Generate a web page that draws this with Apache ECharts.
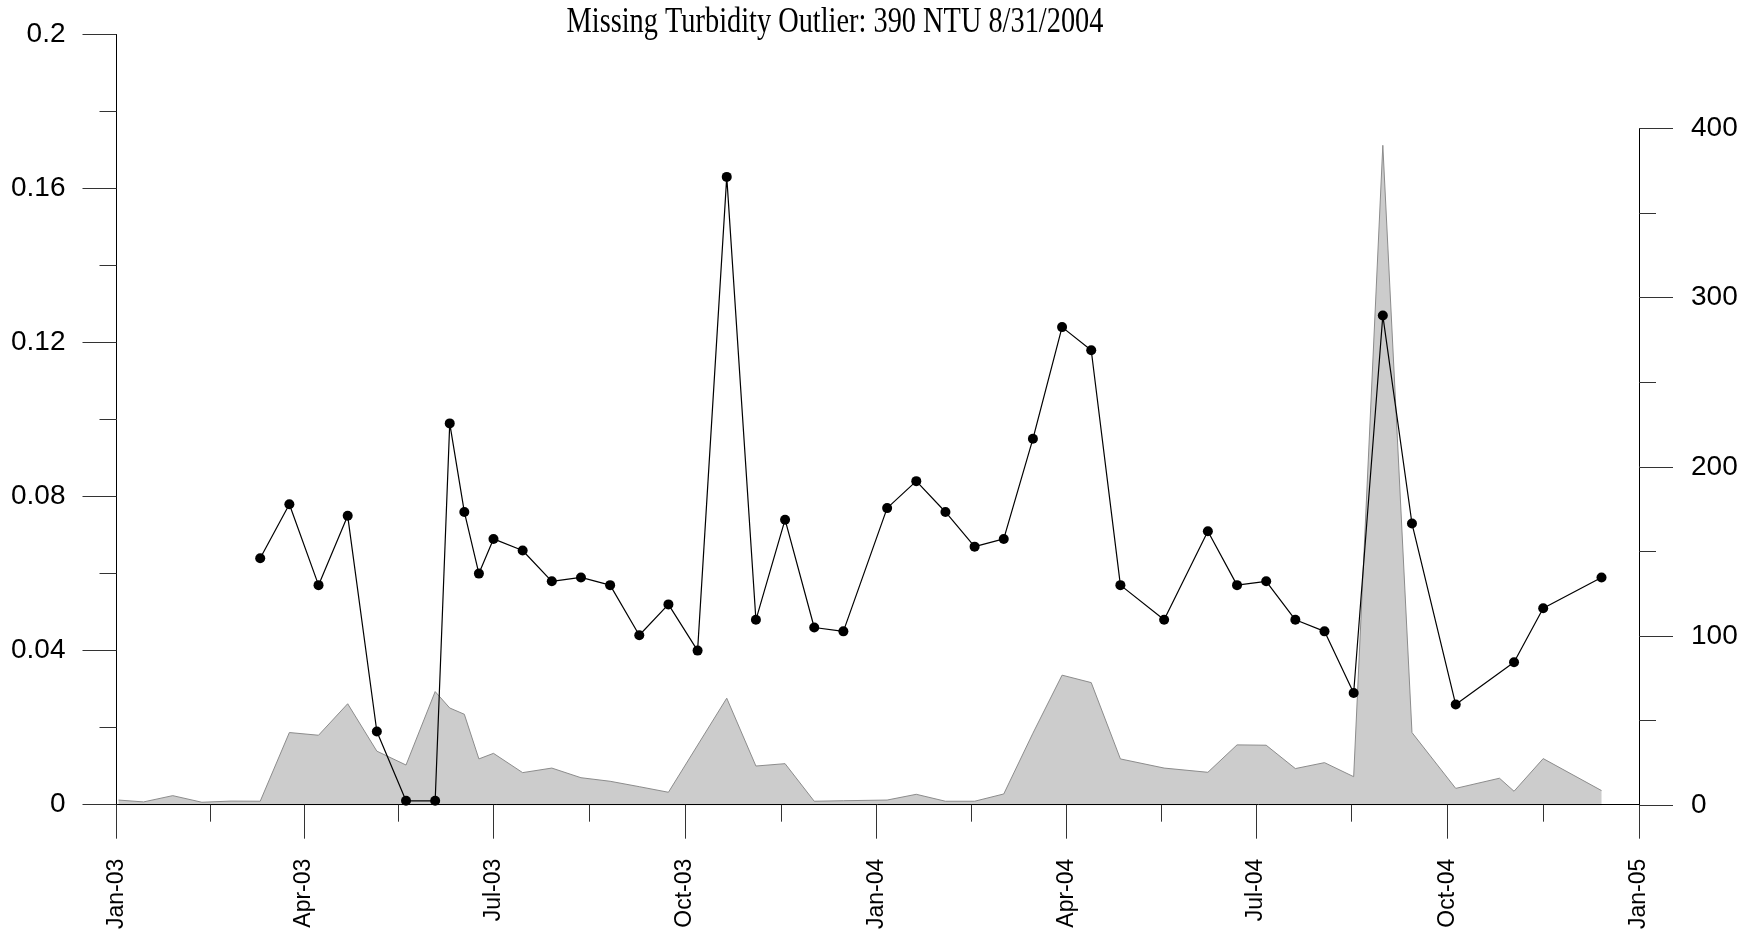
<!DOCTYPE html>
<html>
<head>
<meta charset="utf-8">
<title>Missing Turbidity Outlier</title>
<script src="https://cdn.jsdelivr.net/npm/echarts@6/dist/echarts.min.js"></script>
<style>
  html, body { margin: 0; padding: 0; background: #fff; }
  #chart { width: 1758px; height: 932px; }
</style>
</head>
<body>
<div id="chart"></div>
<script>
// Chart title
const TITLE = 'Missing Turbidity Outlier: 390 NTU 8/31/2004';

// Concentration samples (left axis, dots joined by a line)
const lineDates = [
  '2003-03-11', '2003-03-25', '2003-04-08', '2003-04-22', '2003-05-06', '2003-05-20',
  '2003-06-03', '2003-06-10', '2003-06-17', '2003-06-24', '2003-07-01', '2003-07-15',
  '2003-07-29', '2003-08-12', '2003-08-26', '2003-09-09', '2003-09-23', '2003-10-07',
  '2003-10-21', '2003-11-04', '2003-11-18', '2003-12-02', '2003-12-16', '2004-01-06',
  '2004-01-20', '2004-02-03', '2004-02-17', '2004-03-02', '2004-03-16', '2004-03-30',
  '2004-04-13', '2004-04-27', '2004-05-18', '2004-06-08', '2004-06-22', '2004-07-06',
  '2004-07-20', '2004-08-03', '2004-08-17', '2004-08-31', '2004-09-14', '2004-10-05',
  '2004-11-02', '2004-11-16', '2004-12-14'
];
const lineValues = [
  0.064, 0.078, 0.057, 0.075, 0.019, 0.001,
  0.001, 0.099, 0.076, 0.060, 0.069, 0.066,
  0.058, 0.059, 0.057, 0.044, 0.052, 0.040,
  0.163, 0.048, 0.074, 0.046, 0.045, 0.077,
  0.084, 0.076, 0.067, 0.069, 0.095, 0.124,
  0.118, 0.057, 0.048, 0.071, 0.057, 0.058,
  0.048, 0.045, 0.029, 0.127, 0.073, 0.026,
  0.037, 0.051, 0.059
];

// Turbidity samples in NTU (right axis, grey area)
const areaDates = [
  '2003-01-02', '2003-01-14', '2003-01-28', '2003-02-11', '2003-02-25', '2003-03-11',
  '2003-03-25', '2003-04-08', '2003-04-22', '2003-05-06', '2003-05-20', '2003-06-03',
  '2003-06-10', '2003-06-17', '2003-06-24', '2003-07-01', '2003-07-15', '2003-07-29',
  '2003-08-12', '2003-08-26', '2003-09-09', '2003-09-23', '2003-10-21', '2003-11-04',
  '2003-11-18', '2003-12-02', '2003-12-16', '2004-01-06', '2004-01-20', '2004-02-03',
  '2004-02-17', '2004-03-02', '2004-03-16', '2004-03-30', '2004-04-13', '2004-04-27',
  '2004-05-18', '2004-06-08', '2004-06-22', '2004-07-06', '2004-07-20', '2004-08-03',
  '2004-08-17', '2004-08-31', '2004-09-14', '2004-10-05', '2004-10-26', '2004-11-02',
  '2004-11-16', '2004-12-14'
];
const areaValues = [
  3.1, 2.0, 5.7, 1.8, 2.5, 2.4,
  43, 41.4, 60, 32, 23.8, 67.2,
  57.5, 53.8, 27.4, 30.7, 19.3, 22,
  16.3, 14.2, 11, 7.7, 63.3, 23.2,
  24.6, 2.4, 2.7, 3.1, 6.5, 2.4,
  2.4, 6.7, 42.6, 76.9, 72.5, 27.4,
  22, 19.5, 35.7, 35.5, 21.7, 25.2,
  16.9, 390, 43, 10, 16, 8.3,
  27.6, 8.7
];

// Quarter starts carry the labelled ticks on the date axis
const quarterTicks = [
  '2003-01-01', '2003-04-01', '2003-07-01', '2003-10-01',
  '2004-01-01', '2004-04-01', '2004-07-01', '2004-10-01', '2005-01-01'
];
const MONTHS = ['Jan', 'Feb', 'Mar', 'Apr', 'May', 'Jun', 'Jul', 'Aug', 'Sep', 'Oct', 'Nov', 'Dec'];

const toMs = s => { const p = s.split('-').map(Number); return Date.UTC(p[0], p[1] - 1, p[2]); };
const quarterMs = quarterTicks.map(toMs);
const midQuarterMs = quarterMs.slice(0, -1).map((t, i) => (t + quarterMs[i + 1]) / 2);
const xMin = quarterMs[0];
const xMax = quarterMs[quarterMs.length - 1];

const lineData = lineDates.map((d, i) => [toMs(d), lineValues[i]]);
const areaData = areaDates.map((d, i) => [toMs(d), areaValues[i]]);

const fmtQuarter = v => {
  const d = new Date(v);
  return MONTHS[d.getUTCMonth()] + '-' + String(d.getUTCFullYear() % 100).padStart(2, '0');
};

const SANS = '"Liberation Sans", Arial, sans-serif';
const TICK = '#333';

const chart = echarts.init(document.getElementById('chart'), null, { renderer: 'canvas' });

chart.setOption({
  backgroundColor: '#fff',
  animation: false,
  graphic: [{
    type: 'text',
    x: 835,
    y: 23,
    scaleX: 0.81,
    style: {
      text: TITLE,
      font: '35px "Liberation Serif", "Times New Roman", serif',
      fill: '#000',
      textAlign: 'center',
      textVerticalAlign: 'middle'
    }
  }],
  grid: [
    { left: 116.5, right: 119, top: 34.4, bottom: 126.7 },
    { left: 116.5, right: 119, top: 128.4, bottom: 126.7 }
  ],
  xAxis: [
    {
      type: 'value', gridIndex: 0, min: xMin, max: xMax, z: 10,
      axisLine: { show: true, onZero: false, lineStyle: { color: '#000', width: 1 } },
      axisTick: { show: true, customValues: quarterMs, length: 34, lineStyle: { color: TICK } },
      axisLabel: {
        customValues: quarterMs, rotate: 90, margin: 54,
        formatter: fmtQuarter, fontFamily: SANS, fontSize: 23, color: '#000'
      },
      splitLine: { show: false }
    },
    {
      type: 'value', gridIndex: 0, min: xMin, max: xMax, position: 'bottom', z: 10,
      axisLine: { show: false },
      axisTick: { show: true, customValues: midQuarterMs, length: 17, lineStyle: { color: TICK } },
      axisLabel: { show: false },
      splitLine: { show: false }
    },
    {
      type: 'value', gridIndex: 1, min: xMin, max: xMax, show: false
    }
  ],
  yAxis: [
    {
      type: 'value', gridIndex: 0, position: 'left', min: 0, max: 0.2, interval: 0.04, z: 10,
      axisLine: { show: true, lineStyle: { color: '#000', width: 1 } },
      axisTick: { show: true, length: 34, lineStyle: { color: TICK } },
      minorTick: { show: true, splitNumber: 2, length: 17, lineStyle: { color: TICK } },
      axisLabel: { margin: 51, fontFamily: SANS, fontSize: 28, color: '#000' },
      splitLine: { show: false },
      minorSplitLine: { show: false }
    },
    {
      type: 'value', gridIndex: 1, position: 'right', min: 0, max: 400, interval: 100, z: 10,
      axisLine: { show: true, lineStyle: { color: '#000', width: 1 } },
      axisTick: { show: true, length: 34, lineStyle: { color: TICK } },
      minorTick: { show: true, splitNumber: 2, length: 17, lineStyle: { color: TICK } },
      axisLabel: { margin: 52, fontFamily: SANS, fontSize: 28, color: '#000' },
      splitLine: { show: false },
      minorSplitLine: { show: false }
    }
  ],
  series: [
    {
      name: 'Turbidity (NTU)',
      type: 'line',
      xAxisIndex: 2,
      yAxisIndex: 1,
      data: areaData,
      showSymbol: false,
      symbol: 'none',
      z: 1,
      lineStyle: { color: '#8c8c8c', width: 1 },
      areaStyle: { color: '#cccccc', opacity: 1 }
    },
    {
      name: 'Concentration',
      type: 'line',
      xAxisIndex: 0,
      yAxisIndex: 0,
      data: lineData,
      symbol: 'circle',
      symbolSize: 10,
      z: 3,
      clip: false,
      itemStyle: { color: '#000' },
      lineStyle: { color: '#000', width: 1.2 }
    }
  ]
});
</script>
</body>
</html>
